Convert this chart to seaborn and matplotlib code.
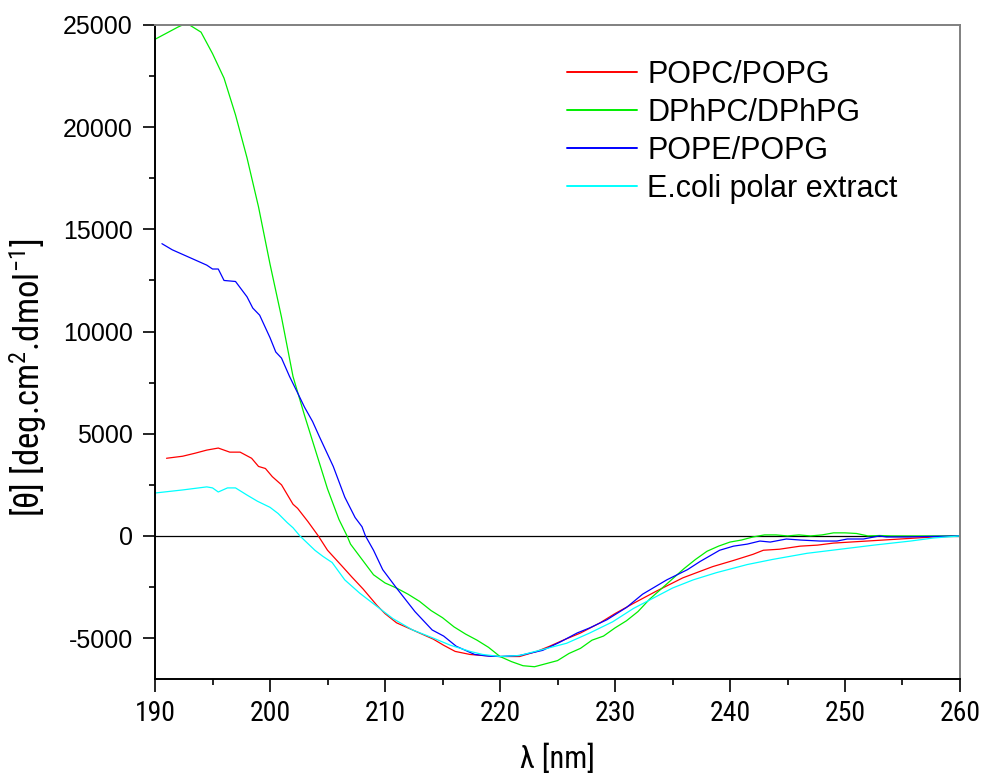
import matplotlib
matplotlib.use("Agg")
import matplotlib.pyplot as plt
from matplotlib import font_manager
from matplotlib.ticker import MultipleLocator
import seaborn as sns
import pandas as pd

# CD spectra of the peptide in different lipid vesicles (mean residue ellipticity)
labels = ["POPC/POPG", "DPhPC/DPhPG", "POPE/POPG", "E.coli polar extract"]
colors = ["#ff0000", "#00ee00", "#0000ff", "#00ffff"]

popc_wl = [191.0, 192.4, 193.5, 194.5, 195.5, 196.5, 197.4, 198.4, 199.0, 199.6,
           200.2, 201.0, 202.0, 202.4, 203.3, 204.2, 205.0, 206.3, 207.1, 208.1,
           209.3, 210.0, 211.0, 212.8, 214.2, 215.1, 216.1, 217.4, 218.5, 220.0,
           221.7, 223.2, 224.3, 225.5, 227.0, 228.7, 230.0, 231.6, 233.6, 235.9,
           238.5, 240.3, 242.0, 242.9, 244.3, 246.1, 247.6, 249.0, 251.9, 254.8,
           257.7, 260.0]
popc_theta = [3800, 3900, 4050, 4200, 4300, 4100, 4100, 3800, 3400, 3300,
              2900, 2500, 1550, 1350, 700, 0, -700, -1500, -2000, -2600,
              -3400, -3800, -4250, -4700, -5050, -5350, -5650, -5800, -5850, -5900,
              -5900, -5650, -5400, -5100, -4750, -4250, -3800, -3300, -2700, -2050,
              -1500, -1200, -900, -700, -650, -500, -450, -350, -250, -150,
              -50, 0]

dphpc_wl = [190.0, 191.0, 192.0, 192.4, 193.0, 194.0, 195.0, 196.0, 197.0, 198.0,
            199.0, 200.0, 201.0, 202.0, 203.0, 204.0, 205.0, 206.0, 206.7, 207.0,
            208.0, 209.0, 210.0, 211.0, 212.0, 213.0, 214.0, 215.0, 216.0, 217.0,
            218.0, 219.0, 220.0, 221.0, 222.0, 223.0, 224.0, 225.0, 226.0, 227.0,
            228.0, 229.0, 230.0, 231.0, 232.0, 233.0, 234.0, 235.0, 236.0, 237.0,
            238.0, 239.0, 240.0, 241.0, 242.0, 243.0, 244.0, 245.0, 246.0, 247.0,
            248.0, 249.0, 250.0, 251.0, 252.0, 253.0, 254.0, 256.0, 258.0, 260.0]
dphpc_theta = [24300, 24600, 24900, 25000, 25000, 24650, 23600, 22400, 20600, 18500,
               16100, 13300, 10700, 7800, 5900, 4100, 2300, 800, 0, -400,
               -1150, -1900, -2300, -2550, -2850, -3200, -3650, -4000, -4450, -4800,
               -5100, -5450, -5900, -6150, -6350, -6400, -6250, -6100, -5750, -5500,
               -5100, -4900, -4500, -4150, -3700, -3100, -2600, -2100, -1600, -1150,
               -750, -500, -300, -200, -50, 50, 50, 0, 50, 0,
               50, 150, 150, 120, 0, 20, 0, 0, 0, 0]

pope_wl = [190.6, 191.5, 192.5, 193.5, 194.5, 195.0, 195.5, 196.0, 197.0, 198.0,
           198.5, 199.1, 200.0, 200.5, 201.0, 201.7, 202.4, 203.0, 203.7, 204.3,
           205.5, 206.5, 207.4, 208.0, 208.3, 209.0, 209.8, 211.0, 212.6, 214.1,
           215.1, 216.2, 217.8, 219.0, 220.0, 221.7, 223.7, 225.2, 226.7, 227.8,
           229.3, 231.0, 232.4, 234.5, 236.3, 237.4, 239.1, 240.3, 241.5, 242.6,
           243.5, 244.9, 246.1, 247.8, 249.3, 250.2, 251.6, 253.0, 253.6, 255.4,
           257.0, 260.0]
pope_theta = [14300, 14000, 13750, 13500, 13250, 13060, 13060, 12500, 12450, 11700,
              11150, 10800, 9700, 9000, 8700, 7800, 7000, 6300, 5600, 4850,
              3400, 1900, 900, 450, 0, -700, -1650, -2550, -3700, -4600,
              -4900, -5400, -5800, -5880, -5900, -5850, -5600, -5200, -4750, -4500,
              -4100, -3500, -2850, -2150, -1650, -1250, -700, -500, -400, -250,
              -300, -150, -200, -250, -250, -150, -150, 0, -50, -50,
              -30, 0]

ecoli_wl = [190.0, 192.4, 194.5, 195.0, 195.5, 196.3, 197.0, 198.0, 198.9, 200.0,
            200.7, 201.5, 202.0, 202.6, 203.9, 204.6, 205.4, 206.5, 207.8, 209.3,
            210.7, 212.4, 214.2, 215.7, 217.4, 218.5, 220.0, 221.7, 224.1, 225.8,
            227.8, 229.8, 231.6, 233.3, 235.0, 236.8, 238.8, 241.5, 243.7, 246.7,
            249.6, 252.5, 255.7, 257.7, 260.0]
ecoli_theta = [2100, 2250, 2400, 2350, 2150, 2350, 2350, 2000, 1700, 1400,
               1100, 650, 400, 0, -700, -1000, -1300, -2150, -2800, -3450,
               -4050, -4600, -5000, -5350, -5650, -5800, -5900, -5850, -5500, -5250,
               -4750, -4200, -3550, -3050, -2550, -2150, -1800, -1400, -1150, -850,
               -650, -450, -250, -100, 0]

frames = []
for name, wl, th in [(labels[0], popc_wl, popc_theta),
                     (labels[1], dphpc_wl, dphpc_theta),
                     (labels[2], pope_wl, pope_theta),
                     (labels[3], ecoli_wl, ecoli_theta)]:
    frames.append(pd.DataFrame({"wavelength": wl, "theta": th, "membrane": name}))
df = pd.concat(frames, ignore_index=True)

sns.set_style("white")

# pick a condensed sans face for the axis texts when one is installed
installed = {f.name for f in font_manager.fontManager.ttflist}
condensed = [n for n in ["Liberation Sans Narrow", "Arial Narrow",
                         "DejaVu Sans Condensed", "Roboto Condensed",
                         "Open Sans Condensed"] if n in installed]
has_condensed = bool(condensed)
narrow = condensed + ["Liberation Sans", "DejaVu Sans"]
regular = ["Liberation Sans", "DejaVu Sans"]

plt.rcParams["font.family"] = regular
plt.rcParams["axes.unicode_minus"] = False
plt.rcParams["text.color"] = "black"
plt.rcParams["axes.labelcolor"] = "black"
plt.rcParams["xtick.color"] = "black"
plt.rcParams["ytick.color"] = "black"
plt.rcParams["mathtext.fontset"] = "custom"
plt.rcParams["mathtext.rm"] = narrow[0]
plt.rcParams["mathtext.it"] = narrow[0]

fig = plt.figure(figsize=(9.83, 7.76), dpi=100)
ax = fig.add_axes([0.1577, 0.125, 0.8189, 0.8428])

sns.lineplot(data=df, x="wavelength", y="theta", hue="membrane",
             hue_order=labels, palette=dict(zip(labels, colors)),
             estimator=None, sort=False, linewidth=0.9, ax=ax)

ax.axhline(0, color="black", linewidth=0.9, zorder=1)

ax.set_xlim(190, 260)
ax.set_ylim(-7000, 25000)
ax.xaxis.set_major_locator(MultipleLocator(10))
ax.xaxis.set_minor_locator(MultipleLocator(5))
ax.yaxis.set_major_locator(MultipleLocator(5000))
ax.yaxis.set_minor_locator(MultipleLocator(2500))

for side in ["left", "bottom"]:
    ax.spines[side].set_color("black")
    ax.spines[side].set_linewidth(1.4)
for side in ["top", "right"]:
    ax.spines[side].set_color("#808080")
    ax.spines[side].set_linewidth(1.4)

ax.tick_params(axis="both", which="major", direction="out", length=9,
               width=1.2, color="black", bottom=True, left=True,
               top=False, right=False)
ax.tick_params(axis="both", which="minor", direction="out", length=4.5,
               width=1.2, color="black", bottom=True, left=True,
               top=False, right=False)
xt_size = 20 if has_condensed else 18
ax.tick_params(axis="x", labelsize=xt_size, pad=6, labelcolor="black")
ax.tick_params(axis="y", labelsize=18, pad=7, labelcolor="black")
for t in ax.get_xticklabels():
    t.set_family(narrow)
for t in ax.get_yticklabels():
    t.set_family(regular)

lab_size = 22 if has_condensed else 20
ax.set_xlabel("λ [nm]", fontsize=lab_size, family=narrow, labelpad=12)
ax.set_ylabel(r"[θ] [deg.cm$^{2}$.dmol$^{-1}$]", fontsize=lab_size + 3,
              family=narrow)
ax.yaxis.set_label_coords(-0.132, 0.46)

leg = ax.legend(loc="upper left", frameon=False, fontsize=22,
                handlelength=2.3, handletextpad=0.33, labelspacing=0.26,
                borderaxespad=0.0, borderpad=0.0,
                bbox_to_anchor=(0.5119, 0.9465))
for line in leg.get_lines():
    line.set_linewidth(1.4)

fig.savefig("out.png", dpi=100)
